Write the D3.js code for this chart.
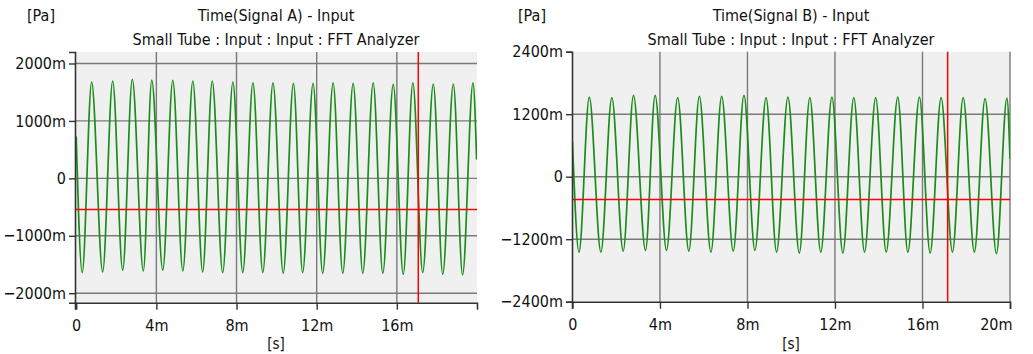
<!DOCTYPE html>
<html>
<head>
<meta charset="utf-8">
<script src="https://d3js.org/d3.v7.min.js"></script>
<style>
  body { margin: 0; background: #fff; }
  text { font-family: 'Liberation Sans Narrow', 'Arial Narrow', 'DejaVu Sans Condensed', sans-serif; fill: #111; }
  .grid { stroke: #7a7a7a; stroke-width: 1.4px; }
  .signal { fill: none; stroke: #1a8c1a; stroke-width: 1.7px; }
  .cursor { stroke: #ff0000; stroke-width: 1.5px; }
</style>
</head>
<body>
<svg id="chart" width="1033" height="354"></svg>
<script>
// ---- data (times in ms, values in mPa) ----
var titlesA = ["Time(Signal A) - Input", "Small Tube : Input : Input : FFT Analyzer"];
var titlesB = ["Time(Signal B) - Input", "Small Tube : Input : Input : FFT Analyzer"];

var yTicksA = [2000, 1000, 0, -1000, -2000];
var yTicksB = [2400, 1200, 0, -1200, -2400];
var xTicksA = [0, 4, 8, 12, 16];
var xTicksB = [0, 4, 8, 12, 16, 20];

// signal A: start, peaks / troughs, end
var aPeakT = [0.77, 1.82, 2.80, 3.77, 4.82, 5.82, 6.79, 7.82, 8.82, 9.82, 10.84, 11.82, 12.82, 13.82, 14.82, 15.82, 16.80, 17.82, 18.82, 19.80];
var aPeakV = [1675, 1693, 1722, 1710, 1705, 1693, 1693, 1675, 1663, 1663, 1652, 1652, 1663, 1652, 1663, 1635, 1663, 1640, 1640, 1663];
var aTroughT = [0.30, 1.32, 2.32, 3.35, 4.32, 5.32, 6.31, 7.31, 8.31, 9.31, 10.33, 11.30, 12.30, 13.30, 14.30, 15.30, 16.32, 17.29, 18.29, 19.28];
var aTroughV = [-1640, -1628, -1600, -1611, -1600, -1611, -1628, -1640, -1640, -1640, -1652, -1640, -1652, -1652, -1652, -1652, -1669, -1640, -1669, -1680];
var aEnds = [[0, 730], [19.98, 330]];
var aCursor = [17.07, -541];

// signal B
var bPeakT = [0.77, 1.80, 2.79, 3.78, 4.81, 5.80, 6.82, 7.84, 8.85, 9.85, 10.85, 11.86, 12.86, 13.86, 14.87, 15.86, 16.85, 17.86, 18.86, 19.86];
var bPeakV = [1529, 1517, 1561, 1561, 1517, 1542, 1542, 1561, 1517, 1529, 1517, 1529, 1517, 1517, 1529, 1529, 1517, 1517, 1498, 1510];
var bTroughT = [0.30, 1.30, 2.32, 3.34, 4.30, 5.32, 6.33, 7.35, 8.34, 9.33, 10.37, 11.35, 12.36, 13.35, 14.34, 15.33, 16.35, 17.37, 18.37, 19.38];
var bTroughV = [-1447, -1447, -1428, -1415, -1415, -1428, -1447, -1428, -1415, -1447, -1466, -1447, -1466, -1447, -1447, -1447, -1466, -1447, -1447, -1478];
var bEnds = [[0, 672], [20, 338]];
var bCursor = [17.15, -436];

function buildSeries(peakT, peakV, troughT, troughV, ends) {
  var pts = [ends[0], ends[1]];
  peakT.forEach(function(t, i) { pts.push([t, peakV[i]]); });
  troughT.forEach(function(t, i) { pts.push([t, troughV[i]]); });
  pts.sort(function(a, b) { return a[0] - b[0]; });
  return pts;
}

function fmt(d) {
  if (d === 0) return "0";
  return (d < 0 ? "\u2212" + (-d) : d) + "m";
}

var svg = d3.select("#chart");

function drawPanel(o) {
  var g = svg.append("g");
  var x = d3.scaleLinear().domain(o.xDomain).range([o.left, o.right]);
  var y = d3.scaleLinear().domain(o.yDomain).range([o.bottom, o.top]);

  g.append("rect")
    .attr("x", o.left).attr("y", o.top)
    .attr("width", o.right - o.left).attr("height", o.bottom - o.top)
    .attr("fill", "#f0f0f0");

  // grid
  g.selectAll(".gy").data(o.yTicks.filter(function(d) { return y(d) > o.top + 1 && y(d) < o.bottom - 1; }))
    .enter().append("line").attr("class", "grid")
    .attr("x1", o.left).attr("x2", o.right)
    .attr("y1", function(d) { return y(d); }).attr("y2", function(d) { return y(d); });
  g.selectAll(".gx").data(o.xTicks.filter(function(d) { return d > 0; }))
    .enter().append("line").attr("class", "grid")
    .attr("x1", function(d) { return x(d); }).attr("x2", function(d) { return x(d); })
    .attr("y1", o.top).attr("y2", o.bottom);

  var clipId = "clip" + o.id;
  svg.append("clipPath").attr("id", clipId).append("rect")
    .attr("x", o.left).attr("y", o.top)
    .attr("width", o.right - o.left).attr("height", o.bottom - o.top);

  var line = d3.line()
    .x(function(d) { return x(d[0]); })
    .y(function(d) { return y(d[1]); })
    .curve(d3.curveMonotoneX);

  g.append("path").datum(o.series)
    .attr("class", "signal")
    .attr("clip-path", "url(#" + clipId + ")")
    .attr("d", line);

  // cursors
  g.append("line").attr("class", "cursor")
    .attr("x1", x(o.cursor[0])).attr("x2", x(o.cursor[0]))
    .attr("y1", o.top).attr("y2", o.bottom);
  g.append("line").attr("class", "cursor")
    .attr("x1", o.left).attr("x2", o.right)
    .attr("y1", y(o.cursor[1])).attr("y2", y(o.cursor[1]));

  // axes
  var yAxis = d3.axisLeft(y).tickValues(o.yTicks).tickSize(6).tickPadding(3).tickFormat(fmt);
  var ya = g.append("g").attr("transform", "translate(" + o.left + ",0)").call(yAxis);
  var xAxis = d3.axisBottom(x).tickValues(o.xTicks).tickSize(7).tickPadding(10).tickFormat(fmt);
  var xa = g.append("g").attr("transform", "translate(0," + o.bottom + ")").call(xAxis);

  [ya, xa].forEach(function(a) {
    a.select(".domain").attr("stroke", "#333").attr("stroke-width", 1.6);
    a.selectAll(".tick line").attr("stroke", "#333").attr("stroke-width", 1.4);
    a.selectAll(".tick text").style("font-size", "16px").attr("fill", "#111");
  });
  xa.selectAll(".tick text").filter(function(d) { return d === 20; }).attr("text-anchor", "end").attr("dx", "2");

  // titles
  g.append("text").attr("x", o.unitX).attr("y", 21).style("font-size", "16px").text("[Pa]");
  g.append("text").attr("x", o.titleX).attr("y", 21).attr("text-anchor", "middle").style("font-size", "16px").text(o.titles[0]);
  g.append("text").attr("x", o.titleX).attr("y", 45).attr("text-anchor", "middle").style("font-size", "16px").text(o.titles[1]);
  g.append("text").attr("x", o.titleX).attr("y", 349).attr("text-anchor", "middle").style("font-size", "15px").text("[s]");
}

drawPanel({
  id: "A", left: 75, right: 477, top: 52, bottom: 302.7,
  xDomain: [-0.06, 20.0], yDomain: [-2165, 2200],
  xTicks: xTicksA, yTicks: yTicksA,
  series: buildSeries(aPeakT, aPeakV, aTroughT, aTroughV, aEnds),
  cursor: aCursor, titles: titlesA, titleX: 276, unitX: 27
});

drawPanel({
  id: "B", left: 572, right: 1010, top: 51.7, bottom: 301.7,
  xDomain: [-0.02, 20.0], yDomain: [-2400, 2400],
  xTicks: xTicksB, yTicks: yTicksB,
  series: buildSeries(bPeakT, bPeakV, bTroughT, bTroughV, bEnds),
  cursor: bCursor, titles: titlesB, titleX: 791, unitX: 518
});
</script>
</body>
</html>
